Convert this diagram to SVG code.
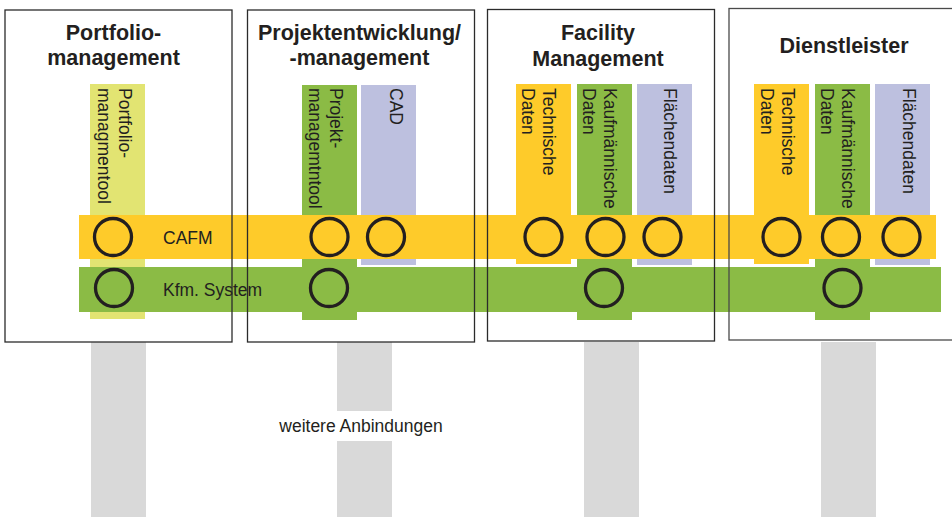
<svg xmlns="http://www.w3.org/2000/svg" width="952" height="517" viewBox="0 0 952 517">
<style>
.frame{fill:none;stroke:#2b2b2b;stroke-width:1.3}
.frame4{fill:none;stroke:#4a4a4a;stroke-width:1.3}
.title{font-family:"Liberation Sans",Arial,sans-serif;font-weight:bold;font-size:21.5px;fill:#231F20;text-anchor:middle}
.lbl{font-family:"Liberation Sans",Arial,sans-serif;font-size:17.5px;fill:#231F20}
.port{fill:none;stroke:#231F20;stroke-width:3.3}
.yel{fill:#FECB2A}
.grn{fill:#8BBB45}
.lav{fill:#BDC0DF}
.lime{fill:#E2E472}
.grey{fill:#D9D9D9}
</style>
<g id="connectors">
  <rect class="grey" x="91" y="342" width="55" height="175"/>
  <rect class="grey" x="337" y="342" width="55" height="69"/>
  <rect class="grey" x="337" y="441" width="55" height="76"/>
  <rect class="grey" x="584" y="342" width="55" height="175"/>
  <rect class="grey" x="821" y="342" width="55" height="175"/>
  <text class="lbl" x="361" y="432" text-anchor="middle">weitere Anbindungen</text>
</g>
<g id="columns">
  <rect class="lime" x="90" y="84" width="55" height="235"/>
  <rect class="grn" x="302" y="85" width="55" height="235"/>
  <rect class="lav" x="361" y="85" width="55" height="180"/>
  <rect class="yel" x="516" y="84" width="55" height="180"/>
  <rect class="grn" x="577" y="84" width="55" height="236"/>
  <rect class="lav" x="637" y="84" width="55" height="181"/>
  <rect class="yel" x="754" y="84" width="55" height="180"/>
  <rect class="grn" x="815" y="84" width="55" height="236"/>
  <rect class="lav" x="875" y="84" width="55" height="181"/>
</g>
<g id="cafm">
  <rect class="yel" x="79" y="215" width="857" height="44"/>
  <text class="lbl" x="163" y="244">CAFM</text>
</g>
<g id="kfm-system">
  <rect class="grn" x="79" y="267" width="862" height="45"/>
  <text class="lbl" x="163" y="295.5">Kfm. System</text>
</g>
<g id="portfoliomanagement">
  <rect class="frame" x="5" y="10" width="227" height="332"/>
  <text class="title" x="113.5" y="40">Portfolio-</text>
  <text class="title" x="113.5" y="65">management</text>
  <g transform="translate(118.5,88) rotate(90)"><text class="lbl" x="0" y="0">Portfolio-</text><text class="lbl" x="0" y="21">managmentool</text></g>
</g>
<g id="projektentwicklung">
  <rect class="frame" x="247.5" y="10" width="227" height="332"/>
  <text class="title" x="359.5" y="40">Projektentwicklung/</text>
  <text class="title" x="359.5" y="65">-management</text>
  <g transform="translate(330,88) rotate(90)"><text class="lbl" x="0" y="0">Projekt-</text><text class="lbl" x="0" y="21">managemtntool</text></g>
  <g transform="translate(390,88) rotate(90)"><text class="lbl" x="0" y="0">CAD</text></g>
</g>
<g id="facility-management">
  <rect class="frame" x="487.5" y="9.5" width="227" height="331.5"/>
  <text class="title" x="598" y="39.5">Facility</text>
  <text class="title" x="598" y="65.5">Management</text>
  <g transform="translate(543,88) rotate(90)"><text class="lbl" x="0" y="0">Technische</text><text class="lbl" x="0" y="21">Daten</text></g>
  <g transform="translate(604,88) rotate(90)"><text class="lbl" x="0" y="0">Kaufmännische</text><text class="lbl" x="0" y="21">Daten</text></g>
  <g transform="translate(664,88) rotate(90)"><text class="lbl" x="0" y="0">Flächendaten</text></g>
</g>
<g id="dienstleister">
  <rect class="frame4" x="729" y="8.5" width="240" height="331.5"/>
  <text class="title" x="844" y="53">Dienstleister</text>
  <g transform="translate(782,88) rotate(90)"><text class="lbl" x="0" y="0">Technische</text><text class="lbl" x="0" y="21">Daten</text></g>
  <g transform="translate(842,88) rotate(90)"><text class="lbl" x="0" y="0">Kaufmännische</text><text class="lbl" x="0" y="21">Daten</text></g>
  <g transform="translate(903,88) rotate(90)"><text class="lbl" x="0" y="0">Flächendaten</text></g>
</g>
<g id="ports">
  <circle class="port" cx="113" cy="237" r="18.5"/>
  <circle class="port" cx="329.5" cy="237" r="18.5"/>
  <circle class="port" cx="386" cy="237" r="18.5"/>
  <circle class="port" cx="543.5" cy="237" r="18.5"/>
  <circle class="port" cx="605.5" cy="237" r="18.5"/>
  <circle class="port" cx="662.5" cy="237" r="18.5"/>
  <circle class="port" cx="781.5" cy="237" r="18.5"/>
  <circle class="port" cx="841" cy="237" r="18.5"/>
  <circle class="port" cx="901.5" cy="237" r="18.5"/>
  <circle class="port" cx="114" cy="288" r="18.5"/>
  <circle class="port" cx="329" cy="288" r="18.5"/>
  <circle class="port" cx="604" cy="288" r="18.5"/>
  <circle class="port" cx="842.5" cy="288" r="18.5"/>
</g>
</svg>
